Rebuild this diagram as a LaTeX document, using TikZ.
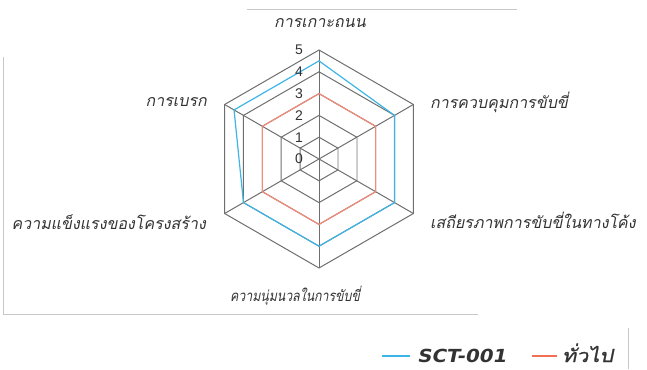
\documentclass[tikz,border=0pt]{standalone}
\usepackage{fontspec}
\setmainfont{Liberation Sans}
\newfontfamily\thai[Script=Thai,FakeSlant=0.2]{Loma}
\newfontfamily\thainarrow[Script=Thai,FakeSlant=0.2,FakeStretch=0.82]{Loma}
\newfontfamily\thaileg[Script=Thai,FakeSlant=0.2,FakeStretch=1.2,FakeBold=1]{Loma}
\newfontfamily\legfont[FakeSlant=0.2,FakeStretch=1.1]{DejaVu Sans}
\definecolor{gridc}{HTML}{6E6E6E}
\definecolor{gridl}{HTML}{D0D0D0}
\definecolor{framec}{HTML}{C8C8C8}
\definecolor{sct}{HTML}{3DB5E6}
\definecolor{gen}{HTML}{F28B7A}
\definecolor{genleg}{HTML}{F26F55}
\definecolor{txt}{HTML}{333333}
\begin{document}
\begin{tikzpicture}[x=1pt,y=1pt,
  frame/.style={draw=framec,line width=1pt},
  gridline/.style={draw=gridc,line width=1pt},
  axlabel/.style={font=\thai\fontsize{16}{18}\selectfont,text=txt,inner sep=0pt},
  scalelabel/.style={font=\fontsize{14}{16}\selectfont,text=txt,inner sep=0pt},
  serie/.style={line width=1.2pt,line join=miter}]
\useasboundingbox (0,0) rectangle (647,369);
% frame remnants
\draw[frame] (247,359) -- (517,359);
\draw[frame] (3.5,312) -- (3.5,54) -- (478,54);
\draw[frame] (628,41) -- (628,0);
\begin{scope}[shift={(319,210)}]
  \def\u{21.8}
  \coordinate (o) at (0,0);
  \foreach \k in {1,...,5}{
    \draw[gridline] (90:\k*\u) -- (30:\k*\u) -- (-30:\k*\u) -- (-90:\k*\u) -- (-150:\k*\u) -- (150:\k*\u) -- cycle;
  }
  \foreach \k in {1,2}{
    \draw[draw=gridl,line width=1pt] (30:\k*\u) -- (-30:\k*\u);
  }
  \foreach \a in {90,30,-30,-90,-150,150}{
    \draw[gridline] (o) -- (\a:5*\u);
  }
  % series
  \draw[serie,draw=gen] (90:3*\u) -- (30:3*\u) -- (-30:3*\u) -- (-90:3*\u) -- (-150:3*\u) -- (150:3*\u) -- cycle;
  \draw[serie,draw=sct] (90:4.5*\u) -- (30:4*\u) -- (-30:4*\u) -- (-90:4*\u) -- (-150:4*\u) -- (150:4.5*\u) -- cycle;
  % scale
  \foreach \k in {0,...,5}{
    \node[scalelabel] (s\k) at (-20,\k*\u) {\k};
  }
\end{scope}
% axis labels
\node[axlabel] (lt) at (320,346) {การเกาะถนน};
\node[axlabel,anchor=west] (lur) at (430,267) {การควบคุมการขับขี่};
\node[axlabel,anchor=west] (llr) at (430,149) {เสถียรภาพการขับขี่ในทางโค้ง};
\node[axlabel,font=\thainarrow\fontsize{15}{17}\selectfont] (lb) at (295,73) {ความนุ่มนวลในการขับขี่};
\node[axlabel,anchor=east] (lll) at (206,147) {ความแข็งแรงของโครงสร้าง};
\node[axlabel,anchor=east] (lul) at (207,267) {การเบรก};
% legend
\coordinate (b1) at (382,13);
\coordinate (b2) at (410,13);
\draw[draw=sct,line width=2.5pt] (b1) -- (b2);
\node[font=\legfont\bfseries\fontsize{18}{20}\selectfont,text=txt,anchor=west,inner sep=0pt] (leg1) at (417,13) {SCT-001};
\coordinate (r1) at (532,13);
\coordinate (r2) at (557,13);
\draw[draw=genleg,line width=2.5pt] (r1) -- (r2);
\node[font=\thaileg\fontsize{18}{20}\selectfont,text=txt,anchor=base west,inner sep=0pt,text depth=0pt] (leg2) at (562,7) {ทั่วไป};
\end{tikzpicture}
\end{document}
